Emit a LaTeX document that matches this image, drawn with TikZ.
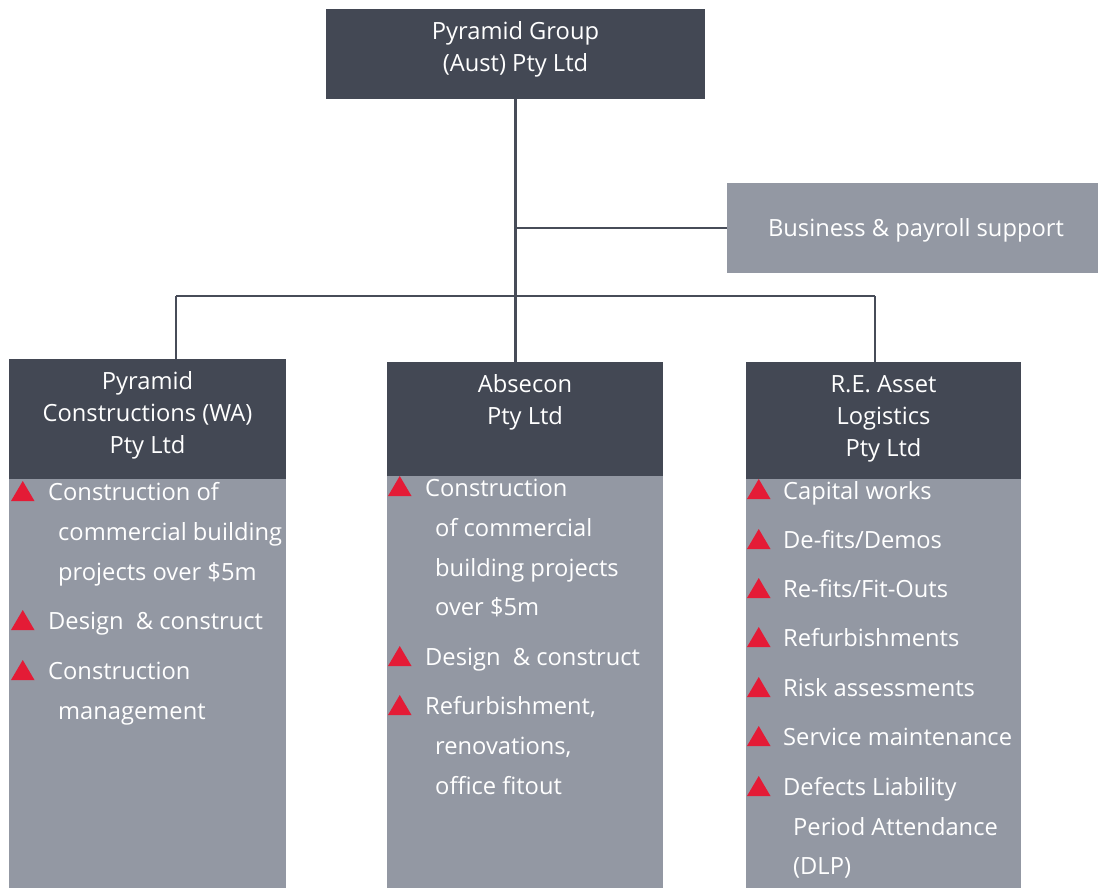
\documentclass[tikz,border=0pt]{standalone}
\usepackage{fontspec}
\setmainfont{Open Sans}
\definecolor{dark}{HTML}{434854}
\definecolor{light}{HTML}{9398A3}
\definecolor{linec}{HTML}{474C58}
\definecolor{trired}{HTML}{E41B36}
\newcommand{\bullettri}[2]{\fill[trired] (#1,#2) -- (#1+23.5,#2) -- (#1+11.75,#2-20) -- cycle;}
\begin{document}
\begin{tikzpicture}[x=1bp,y=-1bp,
  darkbox/.style={fill=dark, draw=none, inner sep=0pt, outer sep=0pt, rectangle},
  lightbox/.style={fill=light, draw=none, inner sep=0pt, outer sep=0pt, rectangle},
  txt/.style={text=white, inner sep=0pt, anchor=base, font=\fontsize{23.7bp}{28bp}\selectfont},
  ltxt/.style={txt, anchor=base west},
  conn/.style={draw=linec, line width=2.5bp}]
\useasboundingbox (0,0) rectangle (1098,888);
% top box
\node[darkbox, minimum width=379bp, minimum height=90bp] (top) at (515.5,54) {};
\node[txt] (t1) at (515.5,39) {Pyramid Group};
\node[txt] (t2) at (515.5,71) {(Aust) Pty Ltd};
% business support
\node[lightbox, minimum width=371bp, minimum height=90bp] (bus) at (912.5,228) {};
\node[txt] (b1) at (916,236) {Business \& payroll support};
% headers
\node[darkbox, minimum width=277bp, minimum height=120bp] (lh) at (147.5,419) {};
\node[darkbox, minimum width=276bp, minimum height=114bp] (mh) at (525,419) {};
\node[darkbox, minimum width=275bp, minimum height=117bp] (rh) at (883.5,420.5) {};
% bodies
\node[lightbox, minimum width=277bp, minimum height=411bp] (lb) at (147.5,684.5) {};
\node[lightbox, minimum width=276bp, minimum height=414bp] (mb) at (525,683) {};
\node[lightbox, minimum width=275bp, minimum height=411bp] (rb) at (883.5,684.5) {};
% connectors
\coordinate (hub) at (516,296);
\coordinate (cl) at (176,296);
\coordinate (cr) at (875,296);
\draw[conn] (top.south) -- (top.south |- mh.north);
\draw[conn] (top.south |- bus.west) -- (bus.west);
\draw[conn] (cl) -- (cr);
\draw[conn] (cl) -- (cl |- lh.north);
\draw[conn] (cr) -- (cr |- rh.north);
% header texts
\node[txt] (lh1) at (147.5,389) {Pyramid};
\node[txt] (lh2) at (147.5,421) {Constructions (WA)};
\node[txt] (lh3) at (147.5,453) {Pty Ltd};
\node[txt] (mh1) at (525,392) {Absecon};
\node[txt] (mh2) at (525,424) {Pty Ltd};
\node[txt] (rh1) at (883.5,392) {R.E. Asset};
\node[txt] (rh2) at (883.5,424) {Logistics};
\node[txt] (rh3) at (883.5,456) {Pty Ltd};
% left list
\bullettri{11}{501}
\node[ltxt] (l1) at (48,500) {Construction of};
\node[ltxt] (l2) at (58,540) {commercial building};
\node[ltxt] (l3) at (58,580) {projects over \$5m};
\bullettri{11}{630}
\node[ltxt] (l4) at (48,629) {Design \ \& construct};
\bullettri{11}{680}
\node[ltxt] (l5) at (48,679) {Construction};
\node[ltxt] (l6) at (58,719) {management};
% middle list
\bullettri{388}{496}
\node[ltxt] (m1) at (425,496) {Construction};
\node[ltxt] (m2) at (435,536) {of commercial};
\node[ltxt] (m3) at (435,576) {building projects};
\node[ltxt] (m4) at (435,615) {over \$5m};
\bullettri{388}{666}
\node[ltxt] (m5) at (425,665) {Design \ \& construct};
\bullettri{388}{715}
\node[ltxt] (m6) at (425,714) {Refurbishment,};
\node[ltxt] (m7) at (435,754) {renovations,};
\node[ltxt] (m8) at (435,794) {office fitout};
% right list
\bullettri{747}{499}
\node[ltxt] (r1) at (783,499) {Capital works};
\bullettri{747}{549}
\node[ltxt] (r2) at (783,548) {De-fits/Demos};
\bullettri{747}{598}
\node[ltxt] (r3) at (783,597) {Re-fits/Fit-Outs};
\bullettri{747}{647}
\node[ltxt] (r4) at (783,646) {Refurbishments};
\bullettri{747}{697}
\node[ltxt] (r5) at (783,696) {Risk assessments};
\bullettri{747}{746}
\node[ltxt] (r6) at (783,745) {Service maintenance};
\bullettri{747}{796}
\node[ltxt] (r7) at (783,795) {Defects Liability};
\node[ltxt] (r8) at (793,835) {Period Attendance};
\node[ltxt] (r9) at (793,874) {(DLP)};
\end{tikzpicture}
\end{document}
